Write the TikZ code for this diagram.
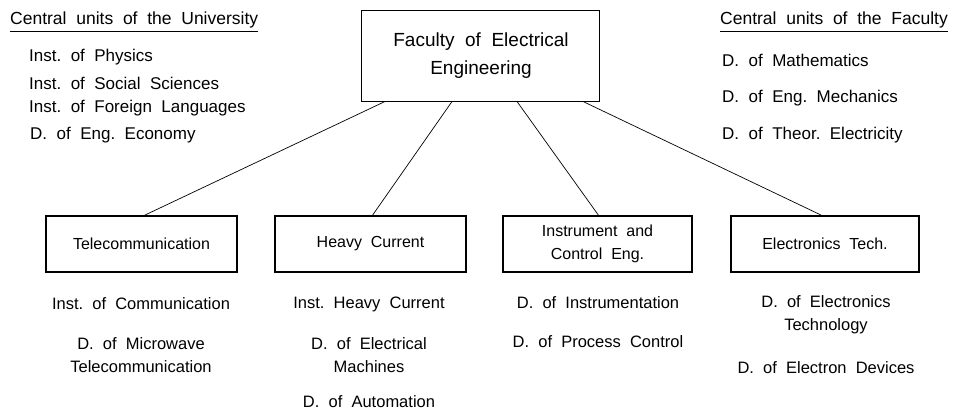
\documentclass[tikz,border=0pt]{standalone}
\usepackage{fontspec}
\setmainfont[WordSpace=2.0]{Liberation Sans}
\begin{document}
\frenchspacing
\begin{tikzpicture}[x=1pt,y=-1pt,
  box/.style={draw,line width=1.6pt,inner sep=0pt},
  lbl/.style={font=\fontsize{16.5}{23}\selectfont,inner sep=0pt,align=center},
  boxlbl/.style={font=\fontsize{16}{23}\selectfont,inner sep=0pt,align=center},
  mainlbl/.style={font=\fontsize{19}{28}\selectfont,inner sep=0pt,align=center},
  item/.style={font=\fontsize{17}{23}\selectfont,inner sep=0pt,anchor=west},
  hdr/.style={font=\fontsize{17.5}{23}\selectfont,inner sep=0pt},
  conn/.style={line width=0.7pt}]
\useasboundingbox (0,0) rectangle (953,411);
\node[box,minimum width=238pt,minimum height=91pt] (fac) at (480.5,56) {};
\node[mainlbl] (factext) at (481,56) {Faculty of Electrical\\Engineering};
\node[box,minimum width=191pt,minimum height=56pt] (tel) at (141.5,244) {};
\node[boxlbl] (telt) at (tel) {Telecommunication};
\node[box,minimum width=191pt,minimum height=56pt] (hc) at (370.5,244) {};
\node[boxlbl] (hct) at (hc) {Heavy Current};
\node[box,minimum width=189pt,minimum height=56pt] (ic) at (597.5,244) {};
\node[boxlbl] (ict) at (ic) {Instrument and\\Control Eng.};
\node[box,minimum width=188pt,minimum height=56pt] (el) at (825,244) {};
\node[boxlbl] (elt) at (el) {Electronics Tech.};
% connectors
\coordinate (f1) at (385,101.5);
\coordinate (f2) at (452,101.5);
\coordinate (f3) at (517,101.5);
\coordinate (f4) at (583,101.5);
\coordinate (t1) at (143,216);
\coordinate (t2) at (372,216);
\coordinate (t3) at (599,216);
\coordinate (t4) at (823,216);
\draw[conn] (f1) -- (t1);
\draw[conn] (f2) -- (t2);
\draw[conn] (f3) -- (t3);
\draw[conn] (f4) -- (t4);
% left header
\node[hdr,anchor=west] (lh) at (10,20) {Central units of the University};
\draw[line width=0.6pt] ([yshift=-3pt]lh.south west) -- ([yshift=-3pt]lh.south east);
\node[item] (l1) at (29,57) {Inst. of Physics};
\node[item] (l2) at (29,83) {Inst. of Social Sciences};
\node[item] (l3) at (29,108) {Inst. of Foreign Languages};
\node[item] (l4) at (30,135) {D. of Eng. Economy};
% right header
\node[hdr,anchor=east] (rh) at (948,20) {Central units of the Faculty};
\draw[line width=0.6pt] ([yshift=-3pt]rh.south west) -- ([yshift=-3pt]rh.south east);
\node[item] (r1) at (722,60) {D. of Mathematics};
\node[item] (r2) at (722,98) {D. of Eng. Mechanics};
\node[item] (r3) at (722,135) {D. of Theor. Electricity};
% below boxes
\node[lbl] (tb1) at (141,304) {Inst. of Communication};
\node[lbl] (tb2) at (141,355.5) {D. of Microwave\\Telecommunication};
\node[lbl] (hb1) at (369,304) {Inst. Heavy Current};
\node[lbl] (hb2) at (369,355.5) {D. of Electrical\\Machines};
\node[lbl] (hb3) at (369,402) {D. of Automation};
\node[lbl] (ib1) at (598,303) {D. of Instrumentation};
\node[lbl] (ib2) at (598,342) {D. of Process Control};
\node[lbl] (eb1) at (826,314.5) {D. of Electronics\\Technology};
\node[lbl] (eb2) at (826,368) {D. of Electron Devices};
\end{tikzpicture}
\end{document}
